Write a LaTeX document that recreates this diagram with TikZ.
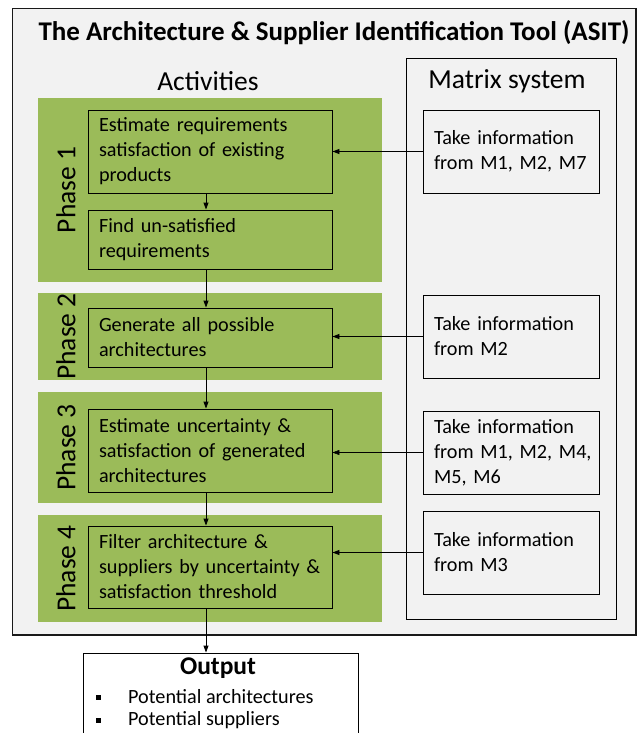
\documentclass[tikz,border=0pt]{standalone}
\usepackage{fontspec}
\setmainfont{Carlito}
\usetikzlibrary{arrows.meta,calc}
\definecolor{phgreen}{HTML}{9BBB59}
\definecolor{bgray}{HTML}{F2F2F2}
\begin{document}
\begin{tikzpicture}[x=1pt,y=-1pt,
  body/.style={font=\fontsize{20.2}{25}\selectfont},
  actbox/.style={body, draw=black, line width=0.9pt, fill=phgreen, minimum width=244pt, text width=222pt, align=left, inner sep=0pt},
  matbox/.style={body, draw=black, line width=0.9pt, fill=bgray, minimum width=176pt, minimum height=83pt, text width=154pt, align=left, inner sep=0pt},
  phase/.style={fill=phgreen, draw=none},
  phlabel/.style={rotate=90, font=\fontsize{27.5}{30}\selectfont},
  head/.style={font=\fontsize{27.5}{30}\selectfont},
  flow/.style={line width=0.9pt, -{Triangle[length=7pt,width=5pt]}},
  flowthin/.style={line width=0.5pt, -{Triangle[length=7pt,width=5pt]}}
]
\useasboundingbox (0,0) rectangle (637,733);
\clip (0,0) rectangle (637,733);
\fill[white] (0,0) rectangle (637,733);
% outer box
\draw[line width=1.5pt, fill=bgray, draw=black!90] (12.5,8.5) rectangle (636,635);
\node[font=\bfseries\fontsize{27}{30}\selectfont] (title) at (334,33) {The Architecture \& Supplier Identification Tool (ASIT)};
% matrix system frame
\draw[line width=0.9pt, fill=bgray] (406,58) rectangle (616,619);
\node[head] (acth) at (208,81) {Activities};
\node[head] (math) at (507,81) {Matrix system};
% phases
\fill[phase] (38,98) rectangle (382,282);
\fill[phase] (38,293) rectangle (382,380);
\fill[phase] (38,392) rectangle (382,503);
\fill[phase] (38,515) rectangle (382,622);
\node[phlabel] (p1) at (66,190) {Phase 1};
\node[phlabel] (p2) at (66,336.5) {Phase 2};
\node[phlabel] (p3) at (66,447.5) {Phase 3};
\node[phlabel] (p4) at (66,568.5) {Phase 4};
% activity boxes
\node[actbox, minimum height=83pt] (a1) at (210,151.5) {Estimate requirements\\satisfaction of existing\\products};
\node[actbox, minimum height=59pt] (a2) at (210,239.5) {Find un-satisfied\\requirements};
\node[actbox, minimum height=59pt] (a3) at (210,337.5) {Generate all possible\\architectures};
\node[actbox, minimum height=83pt] (a4) at (210,450.5) {Estimate uncertainty \&\\satisfaction of generated\\architectures};
\node[actbox, minimum height=82pt] (a5) at (210,567) {Filter architecture \&\\suppliers by uncertainty \&\\satisfaction threshold};
% matrix boxes
\node[matbox] (m1) at (511,151.5) {Take information\\from M1, M2, M7};
\node[matbox] (m2) at (511,336.5) {Take information\\from M2};
\node[matbox] (m3) at (511,452.5) {Take information\\\mbox{from M1, M2, M4,}\\M5, M6};
\node[matbox] (m4) at (511,552.5) {Take information\\from M3};
% output
\node[draw=black, line width=0.9pt, fill=white, minimum width=275pt, minimum height=100pt, inner sep=0pt] (out) at (220.5,703) {};
\node[font=\bfseries\fontsize{25.5}{28}\selectfont] (outt) at (218,668) {Output};
\node[fill=black, minimum size=5pt, inner sep=0pt] (b1) at (98,697) {};
\node[fill=black, minimum size=5pt, inner sep=0pt] (b2) at (98,720) {};
\node[body, anchor=west, inner sep=0pt] (o1) at (128,697) {Potential architectures};
\node[body, anchor=west, inner sep=0pt] (o2) at (128,720) {Potential suppliers};
% connectors
\coordinate (cx) at (206,0);
\draw[flow] (a1.south -| cx) -- (a2.north -| cx);
\draw[flow] (a2.south -| cx) -- (a3.north -| cx);
\draw[flow] (a3.south -| cx) -- (a4.north -| cx);
\draw[flow] (a4.south -| cx) -- (a5.north -| cx);
\draw[flow] (a5.south -| cx) -- (out.north -| cx);
\draw[flow] (m1.west) -- (m1.west -| a1.east);
\draw[flow] (m2.west) -- (m2.west -| a3.east);
\draw[flowthin] (m3.west) -- (m3.west -| a4.east);
\draw[flow] (m4.west) -- (m4.west -| a5.east);
\end{tikzpicture}
\end{document}
